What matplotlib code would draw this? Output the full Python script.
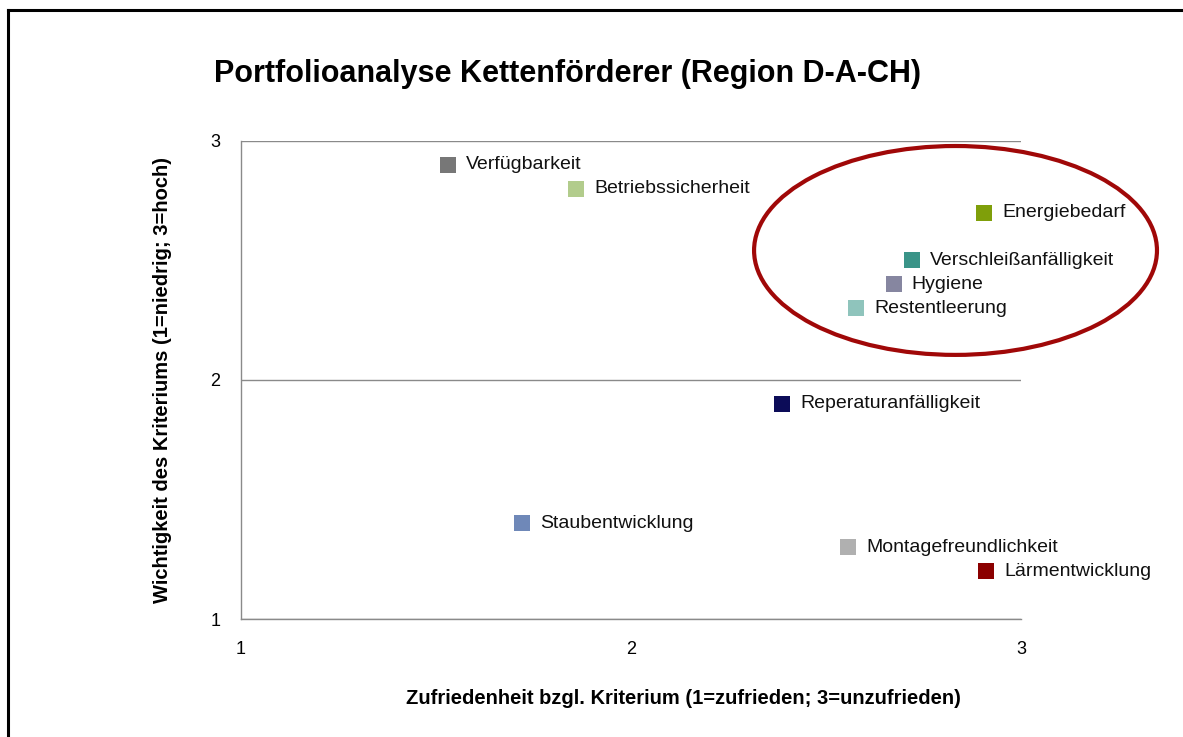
import matplotlib
matplotlib.use("Agg")
import matplotlib.pyplot as plt
from matplotlib.patches import Ellipse
from matplotlib.lines import Line2D

plt.rcParams["font.family"] = ["Liberation Sans", "DejaVu Sans"]

# ── Daten: Kriterien, Zufriedenheit (x), Wichtigkeit (y) ──
kriterien = [
    "Verfügbarkeit", "Betriebssicherheit", "Energiebedarf",
    "Verschleißanfälligkeit", "Hygiene", "Restentleerung",
    "Reperaturanfälligkeit", "Staubentwicklung",
    "Montagefreundlichkeit", "Lärmentwicklung",
]
zufriedenheit = [1.53, 1.86, 2.905, 2.72, 2.673, 2.577, 2.387, 1.72, 2.556, 2.91]
wichtigkeit = [2.9, 2.8, 2.7, 2.5, 2.4, 2.3, 1.9, 1.4, 1.3, 1.2]
farben = [
    "#777777", "#b2cc8c", "#7f9f0a", "#3a9488", "#8686a0",
    "#8fc4bc", "#0c0c58", "#6f88b8", "#b0b0b0", "#8b0000",
]

fig = plt.figure(figsize=(11.83, 7.37), dpi=100)
ax = fig.add_axes([0.2037, 0.1601, 0.6594, 0.6486])

for x, y, name, c in zip(zufriedenheit, wichtigkeit, kriterien, farben):
    ax.scatter(x, y, s=130, marker="s", color=c, linewidths=0, zorder=3, clip_on=False)
    ax.annotate(name, (x, y), xytext=(13, 0), textcoords="offset points",
                va="center", ha="left", fontsize=14, color="#111111")

ax.set_xlim(1, 3)
ax.set_ylim(1, 3)
ax.set_xticks([1, 2, 3])
ax.set_yticks([1, 2, 3])
ax.tick_params(length=0, labelsize=13, pad=15)
ax.tick_params(axis="x", pad=16)
ax.yaxis.grid(True, color="#8a8a8a", linewidth=1.0)
ax.set_axisbelow(True)
for side in ["top", "right"]:
    ax.spines[side].set_visible(False)
for side in ["left", "bottom"]:
    ax.spines[side].set_color("#8a8a8a")
    ax.spines[side].set_linewidth(1.0)

ax.set_xlabel("Zufriedenheit bzgl. Kriterium (1=zufrieden; 3=unzufrieden)",
              fontsize=14.5, fontweight="bold")
ax.set_ylabel("Wichtigkeit des Kriteriums (1=niedrig; 3=hoch)",
              fontsize=14.5, fontweight="bold")
ax.xaxis.set_label_coords(0.567, -0.147)
ax.yaxis.set_label_coords(-0.089, 0.5)

# Hervorhebung der Gruppe oben rechts
ell = Ellipse((2.832, 2.542), 1.033, 0.874, fill=False, edgecolor="#a00808",
              linewidth=3.0, clip_on=False, zorder=4)
ax.add_patch(ell)

fig.text(0.4795, 0.899, "Portfolioanalyse Kettenförderer (Region D-A-CH)",
         ha="center", va="center", fontsize=22, fontweight="bold")

# Rahmen links und oben
fig.add_artist(Line2D([8 / 1183, 1.0], [1 - 10 / 737, 1 - 10 / 737],
                      color="black", linewidth=2.2, transform=fig.transFigure))
fig.add_artist(Line2D([8 / 1183, 8 / 1183], [0, 1 - 10 / 737],
                      color="black", linewidth=2.2, transform=fig.transFigure))

plt.savefig("out.png", dpi=100)
plt.close()
